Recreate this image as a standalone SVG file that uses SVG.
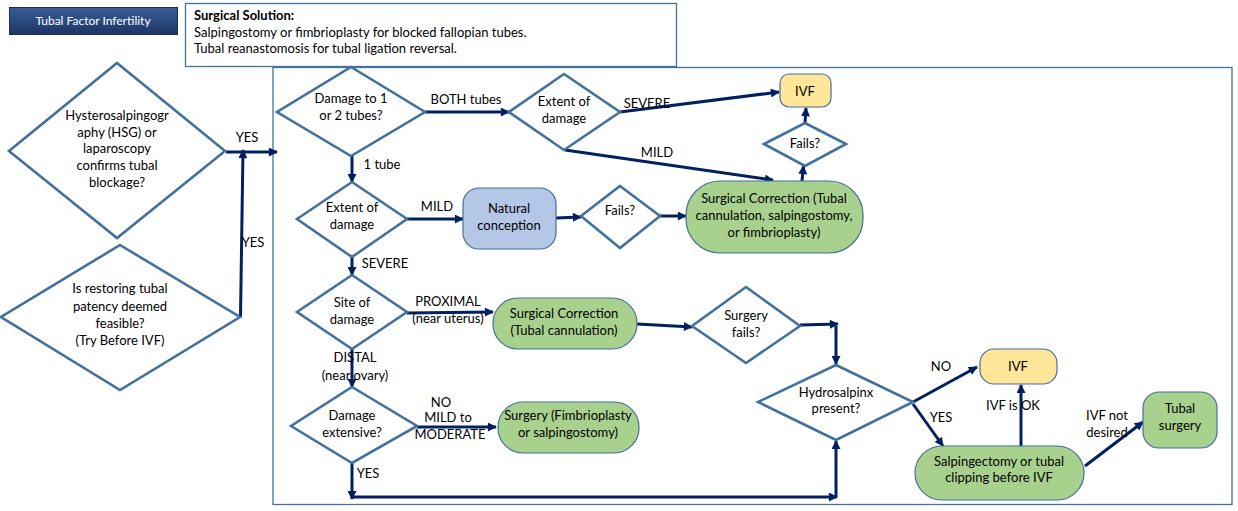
<svg xmlns="http://www.w3.org/2000/svg" width="1238" height="511" viewBox="0 0 1238 511">
<defs>
<linearGradient id="tg" x1="0" y1="0" x2="0" y2="1">
<stop offset="0" stop-color="#3b5d94"/>
<stop offset="0.5" stop-color="#2a4a7e"/>
<stop offset="1" stop-color="#1c3461"/>
</linearGradient>
<marker id="ah" viewBox="0 0 10 10" refX="9" refY="5" markerWidth="10" markerHeight="9" markerUnits="userSpaceOnUse" orient="auto">
<path d="M0,0 L10,5 L0,10 z" fill="#002060"/>
</marker>
<style>
text{font-family:Lato,"Open Sans","Liberation Sans",sans-serif;font-size:13px;fill:#000;}
.c{text-anchor:middle;}
.dia{fill:#fff;stroke:#41719c;stroke-width:2.6;}
.box{stroke:#41719c;stroke-width:1.2;}
.g{fill:#a9d18e;}
.y{fill:#ffe699;}
.b{fill:#b4c7e7;}
.frame{fill:none;stroke:#41719c;stroke-width:1.3;}
#connectors line,#connectors polyline{stroke:#002060;stroke-width:3;fill:none;}
.a{marker-end:url(#ah);}
</style>
</defs>
<rect width="1238" height="511" fill="#fff"/>
<rect class="frame" x="273" y="67.5" width="959" height="437"/>

<g id="title">
<rect x="9.5" y="7.5" width="168" height="27" fill="url(#tg)" stroke="#1a2f57" stroke-width="1"/>
<text x="93" y="25" class="c" style="fill:#fff;font-size:12px">Tubal Factor Infertility</text>
</g>

<g id="solution">
<rect x="185.5" y="3.5" width="491" height="63" fill="#fff" stroke="#41719c" stroke-width="1.3"/>
<text x="194" y="20" style="font-weight:bold">Surgical Solution:</text>
<text x="194" y="37">Salpingostomy or fimbrioplasty for blocked fallopian tubes.</text>
<text x="194" y="53">Tubal reanastomosis for tubal ligation reversal.</text>
</g>

<g id="connectors">
<line class="a" x1="226" y1="152" x2="277" y2="152"/>
<line class="a" x1="240.5" y1="317" x2="243" y2="150"/>
<line class="a" x1="425" y1="112" x2="509" y2="112"/>
<line class="a" x1="352" y1="156" x2="352" y2="182"/>
<line class="a" x1="620" y1="112" x2="779" y2="92"/>
<line class="a" x1="565" y1="150" x2="773" y2="180"/>
<line class="a" x1="802" y1="181" x2="803.5" y2="166"/>
<line class="a" x1="805" y1="123" x2="806" y2="108"/>
<line class="a" x1="407" y1="219" x2="463" y2="219"/>
<line class="a" x1="556" y1="218" x2="581" y2="217"/>
<line class="a" x1="660" y1="216" x2="686" y2="216"/>
<line class="a" x1="352" y1="257" x2="352" y2="275"/>
<line class="a" x1="407" y1="313" x2="493" y2="312"/>
<line class="a" x1="352" y1="349" x2="352" y2="387"/>
<line class="a" x1="417" y1="427" x2="496" y2="427"/>
<line class="a" x1="637" y1="324" x2="692" y2="327"/>
<line class="a" x1="800" y1="325" x2="838" y2="324"/>
<line class="a" x1="836" y1="326" x2="836" y2="364"/>
<line class="a" x1="352" y1="463" x2="352" y2="499"/>
<line class="a" x1="352" y1="497" x2="837" y2="497"/>
<line class="a" x1="836" y1="497" x2="836" y2="441"/>
<line class="a" x1="913" y1="402" x2="977" y2="367"/>
<line class="a" x1="913" y1="404" x2="943" y2="446"/>
<line class="a" x1="1021" y1="446" x2="1021" y2="385"/>
<line class="a" x1="1085" y1="466" x2="1143" y2="422"/>
</g>

<g id="labels">
<text x="247" y="142" class="c">YES</text>
<text x="253" y="247" class="c">YES</text>
<text x="466" y="104" class="c">BOTH tubes</text>
<text x="647" y="108" class="c">SEVERE</text>
<text x="657" y="157" class="c">MILD</text>
<text x="382" y="169" class="c">1 tube</text>
<text x="437" y="211" class="c">MILD</text>
<text x="385" y="268" class="c">SEVERE</text>
<text x="448" y="306" class="c">PROXIMAL</text>
<text x="448" y="323" class="c">(near uterus)</text>
<text x="355" y="362" class="c">DISTAL</text>
<text x="355" y="380" class="c">(near ovary)</text>
<text x="441" y="407" class="c">NO</text>
<text x="448" y="422" class="c">MILD to</text>
<text x="450" y="439" class="c">MODERATE</text>
<text x="368" y="478" class="c">YES</text>
<text x="941" y="371" class="c">NO</text>
<text x="941" y="422" class="c">YES</text>
<text x="1013" y="410" class="c">IVF is OK</text>
<text x="1107" y="420" class="c">IVF not</text>
<text x="1107" y="437" class="c">desired</text>
</g>

<g id="n-hsg">
<polygon class="dia" points="117,63 225,151 117,238 9,151"/>
<text class="c" x="117" y="120">Hysterosalpingogr</text>
<text class="c" x="117" y="137">aphy (HSG) or</text>
<text class="c" x="117" y="153">laparoscopy</text>
<text class="c" x="117" y="170">confirms tubal</text>
<text class="c" x="117" y="187">blockage?</text>
</g>

<g id="n-feasible">
<polygon class="dia" points="120,245 240,317 120,390 1,317"/>
<text class="c" x="120" y="293">Is restoring tubal</text>
<text class="c" x="120" y="311">patency deemed</text>
<text class="c" x="120" y="328">feasible?</text>
<text class="c" x="120" y="345">(Try Before IVF)</text>
</g>

<g id="n-tubes">
<polygon class="dia" points="351,67 425,112 351,156 277,112"/>
<text class="c" x="351" y="103">Damage to 1</text>
<text class="c" x="351" y="120">or 2 tubes?</text>
</g>

<g id="n-extent-both">
<polygon class="dia" points="564,74 620,112 564,150 509,112"/>
<text class="c" x="564" y="106">Extent of</text>
<text class="c" x="564" y="123">damage</text>
</g>

<g id="n-ivf-top">
<rect class="box y" x="780" y="74" width="51" height="33" rx="9"/>
<text class="c" x="805" y="96">IVF</text>
</g>

<g id="n-fails-top">
<polygon class="dia" points="805,123 846,144 805,166 764,144"/>
<text class="c" x="805" y="148">Fails?</text>
</g>

<g id="n-surg-big">
<rect class="box g" x="686" y="181" width="177" height="72" rx="34"/>
<text class="c" x="774" y="203">Surgical Correction (Tubal</text>
<text class="c" x="774" y="220">cannulation, salpingostomy,</text>
<text class="c" x="774" y="237">or fimbrioplasty)</text>
</g>

<g id="n-extent-one">
<polygon class="dia" points="352,182 407,219 352,257 297,219"/>
<text class="c" x="352" y="212">Extent of</text>
<text class="c" x="352" y="229">damage</text>
</g>

<g id="n-natural">
<rect class="box b" x="463" y="188" width="93" height="61" rx="16"/>
<text class="c" x="509" y="213">Natural</text>
<text class="c" x="509" y="230">conception</text>
</g>

<g id="n-fails-mid">
<polygon class="dia" points="620,186 660,216 620,248 581,216"/>
<text class="c" x="620" y="215">Fails?</text>
</g>

<g id="n-site">
<polygon class="dia" points="352,275 407,312 352,349 297,312"/>
<text class="c" x="352" y="307">Site of</text>
<text class="c" x="352" y="324">damage</text>
</g>

<g id="n-surg-cannulation">
<rect class="box g" x="493" y="298" width="144" height="51" rx="25"/>
<text class="c" x="564" y="318">Surgical Correction</text>
<text class="c" x="564" y="335">(Tubal cannulation)</text>
</g>

<g id="n-surgery-fails">
<polygon class="dia" points="746,287 800,326 746,363 692,326"/>
<text class="c" x="746" y="320">Surgery</text>
<text class="c" x="746" y="337">fails?</text>
</g>

<g id="n-extensive">
<polygon class="dia" points="352,387 417,426 352,463 291,426"/>
<text class="c" x="352" y="420">Damage</text>
<text class="c" x="352" y="437">extensive?</text>
</g>

<g id="n-surg-fimbrio">
<rect class="box g" x="498" y="402" width="141" height="51" rx="25"/>
<text class="c" x="568" y="420">Surgery (Fimbrioplasty</text>
<text class="c" x="568" y="437">or salpingostomy)</text>
</g>

<g id="n-hydro">
<polygon class="dia" points="836,365 913,402 836,440 758,402"/>
<text class="c" x="836" y="397">Hydrosalpinx</text>
<text class="c" x="836" y="413">present?</text>
</g>

<g id="n-ivf-bottom">
<rect class="box y" x="980" y="349" width="77" height="35" rx="14"/>
<text class="c" x="1018" y="371">IVF</text>
</g>

<g id="n-salpingectomy">
<rect class="box g" x="915" y="446" width="169" height="54" rx="27"/>
<text class="c" x="999" y="466">Salpingectomy or tubal</text>
<text class="c" x="999" y="482">clipping before IVF</text>
</g>

<g id="n-tubal-surgery">
<rect class="box g" x="1143" y="392" width="74" height="56" rx="16"/>
<text class="c" x="1180" y="413">Tubal</text>
<text class="c" x="1180" y="430">surgery</text>
</g>
</svg>
